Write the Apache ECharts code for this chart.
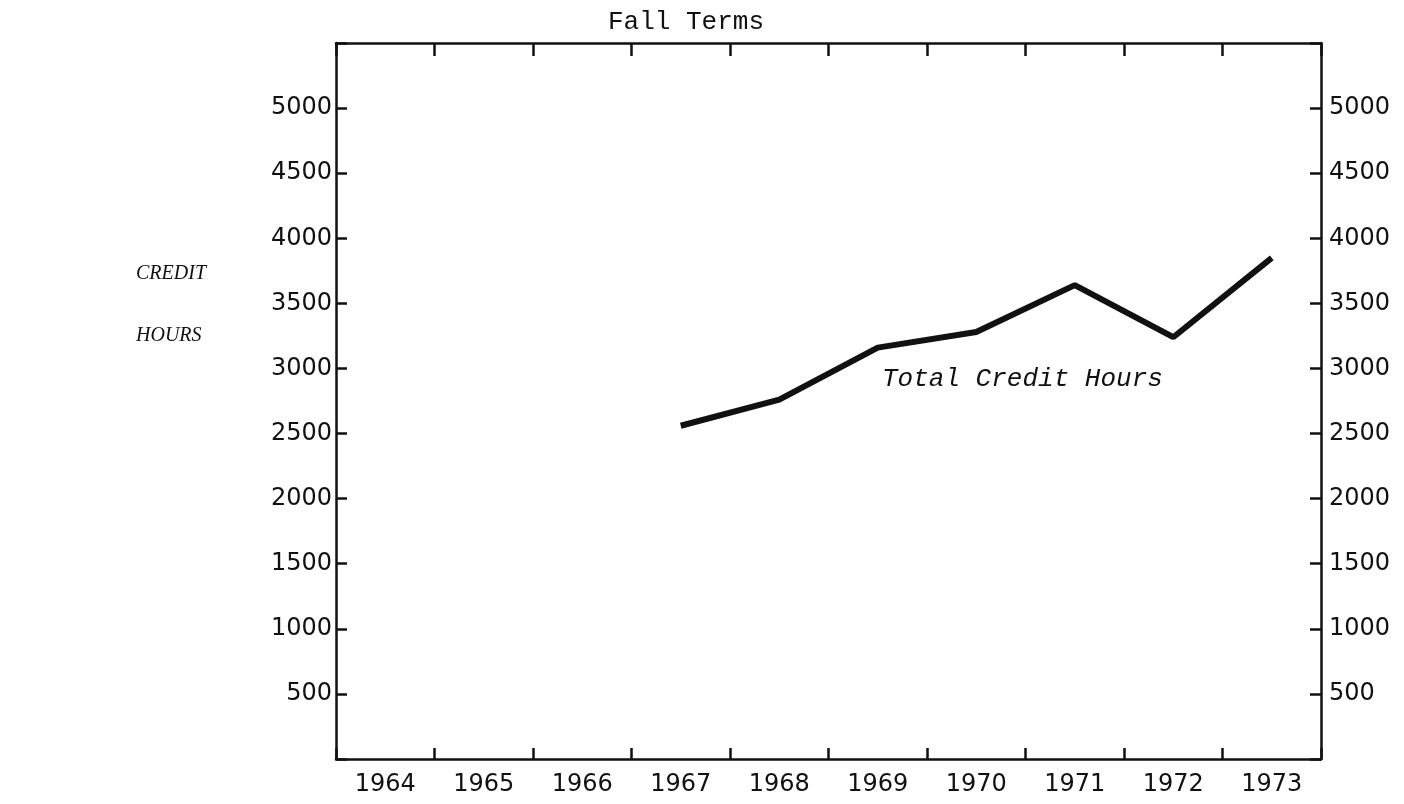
<!DOCTYPE html>
<html>
<head>
<meta charset="utf-8">
<script src="https://cdn.jsdelivr.net/npm/echarts@6/dist/echarts.min.js"></script>
<style>
html,body{margin:0;padding:0;background:#fff;}
#chart{width:1404px;height:804px;}
</style>
</head>
<body>
<div id="chart"></div>
<script>
const years = ['1964','1965','1966','1967','1968','1969','1970','1971','1972','1973'];
const totalCreditHours = [null, null, null, 2560, 2760, 3160, 3280, 3640, 3240, 3850];
const yTickLabels = ['500','1000','1500','2000','2500','3000','3500','4000','4500','5000'];

const chart = echarts.init(document.getElementById('chart'));
const ink = '#111';
const labelFmt = v => yTickLabels.indexOf(String(v)) >= 0 ? String(v) : '';
const yCommon = {
  type: 'value', min: 0, max: 5500, interval: 500,
  splitLine: {show: false},
  axisLine: {show: true, lineStyle: {color: ink, width: 2.5}},
  axisTick: {show: true, inside: true, length: 11, lineStyle: {color: ink, width: 2.5}},
  axisLabel: {formatter: labelFmt, color: ink, fontFamily: 'DejaVu Sans', fontSize: 24, margin: 4}
};
const xCommon = {
  type: 'category', data: years, boundaryGap: true,
  axisLine: {show: true, onZero: false, lineStyle: {color: ink, width: 2.5}},
  axisTick: {show: true, inside: true, length: 11, alignWithLabel: false, lineStyle: {color: ink, width: 2.5}},
  splitLine: {show: false}
};
chart.setOption({
  backgroundColor: '#fff',
  animation: false,
  title: {
    text: 'Fall Terms', left: 603, top: 4,
    textStyle: {fontFamily: 'Liberation Mono', fontWeight: 'normal', fontSize: 26, color: ink}
  },
  grid: {left: 336, right: 83, top: 43, bottom: 45, containLabel: false},
  xAxis: [
    Object.assign({}, xCommon, {position: 'bottom',
      axisLabel: {color: ink, fontFamily: 'DejaVu Sans', fontSize: 24, margin: 14}}),
    Object.assign({}, xCommon, {position: 'top', axisLabel: {show: false},
      axisTick: {show: true, inside: true, length: 13, alignWithLabel: false, lineStyle: {color: ink, width: 2.5}}})
  ],
  yAxis: [
    Object.assign({}, yCommon, {position: 'left'}),
    Object.assign({}, yCommon, {position: 'right', axisLabel: Object.assign({}, yCommon.axisLabel, {margin: 8})})
  ],
  graphic: [
    {type: 'text', left: 136, top: 264, style: {text: 'CREDIT', font: 'italic 20px "Liberation Serif"', fill: ink}},
    {type: 'text', left: 136, top: 326, style: {text: 'HOURS', font: 'italic 20px "Liberation Serif"', fill: ink}},
    {type: 'text', left: 882, top: 366, style: {text: 'Total Credit Hours', font: 'italic 26px "Liberation Mono"', fill: ink}}
  ],
  series: [{
    name: 'Total Credit Hours', type: 'line', data: totalCreditHours,
    xAxisIndex: 0, yAxisIndex: 0,
    symbol: 'none', lineStyle: {color: ink, width: 6}, connectNulls: false
  }]
});
</script>
</body>
</html>
